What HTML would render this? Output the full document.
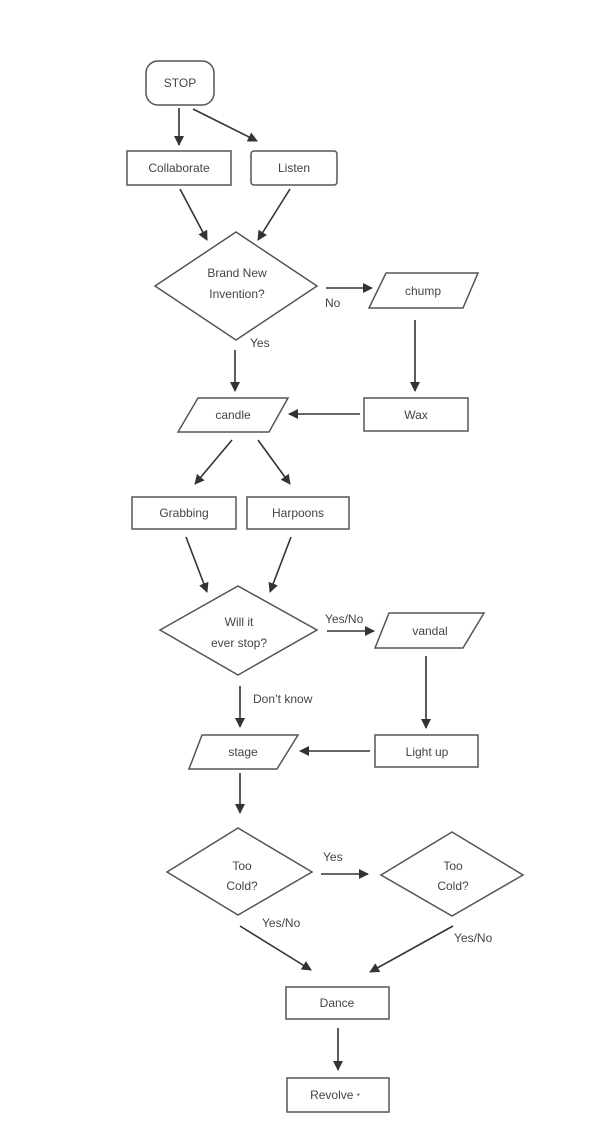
<!DOCTYPE html>
<html><head><meta charset="utf-8"><style>
html,body{margin:0;padding:0;background:#fff;}
svg{display:block;}
text{font-family:"Liberation Sans",sans-serif;font-size:12px;fill:#444;text-anchor:middle;}
.s{fill:none;stroke:#555;stroke-width:1.5;}
.a{stroke:#333;stroke-width:1.6;fill:none;marker-end:url(#ah);}
.l{text-anchor:start;}
</style></head><body>
<svg width="600" height="1139" viewBox="0 0 600 1139">
<defs><marker id="ah" markerWidth="10" markerHeight="10" refX="9" refY="5" orient="auto" markerUnits="userSpaceOnUse"><path d="M0,0 L10,5 L0,10 z" fill="#333"/></marker></defs>

<rect class="s" x="146" y="61" width="68" height="44" rx="12"/>
<text x="180" y="87">STOP</text>
<line class="a" x1="179" y1="108" x2="179" y2="145"/>
<line class="a" x1="193" y1="109" x2="257" y2="141"/>

<rect class="s" x="127" y="151" width="104" height="34"/>
<text x="179" y="172">Collaborate</text>
<rect class="s" x="251" y="151" width="86" height="34" rx="3"/>
<text x="294" y="172">Listen</text>
<line class="a" x1="180" y1="189" x2="207" y2="240"/>
<line class="a" x1="290" y1="189" x2="258" y2="240"/>

<polygon class="s" points="155,286 236,232 317,286 236,340"/>
<text x="237" y="277">Brand New</text>
<text x="237" y="298">Invention?</text>
<line class="a" x1="326" y1="288" x2="372" y2="288"/>
<text class="l" x="325" y="307">No</text>
<polygon class="s" points="386,273 478,273 463,308 369,308"/>
<text x="423" y="295">chump</text>
<line class="a" x1="415" y1="320" x2="415" y2="391"/>
<text class="l" x="250" y="347">Yes</text>
<line class="a" x1="235" y1="350" x2="235" y2="391"/>

<polygon class="s" points="198,398 288,398 269,432 178,432"/>
<text x="233" y="419">candle</text>
<rect class="s" x="364" y="398" width="104" height="33"/>
<text x="416" y="419">Wax</text>
<line class="a" x1="360" y1="414" x2="289" y2="414"/>
<line class="a" x1="232" y1="440" x2="195" y2="484"/>
<line class="a" x1="258" y1="440" x2="290" y2="484"/>

<rect class="s" x="132" y="497" width="104" height="32"/>
<text x="184" y="517">Grabbing</text>
<rect class="s" x="247" y="497" width="102" height="32"/>
<text x="298" y="517">Harpoons</text>
<line class="a" x1="186" y1="537" x2="207" y2="592"/>
<line class="a" x1="291" y1="537" x2="270" y2="592"/>

<polygon class="s" points="160,630 238,586 317,630 238,675"/>
<text x="239" y="626">Will it</text>
<text x="239" y="647">ever stop?</text>
<line class="a" x1="327" y1="631" x2="374" y2="631"/>
<text class="l" x="325" y="623">Yes/No</text>
<polygon class="s" points="389,613 484,613 463,648 375,648"/>
<text x="430" y="635">vandal</text>
<line class="a" x1="426" y1="656" x2="426" y2="728"/>
<text class="l" x="253" y="703">Don’t know</text>
<line class="a" x1="240" y1="686" x2="240" y2="727"/>

<polygon class="s" points="202,735 298,735 277,769 189,769"/>
<text x="243" y="756">stage</text>
<rect class="s" x="375" y="735" width="103" height="32"/>
<text x="427" y="756">Light up</text>
<line class="a" x1="370" y1="751" x2="300" y2="751"/>
<line class="a" x1="240" y1="773" x2="240" y2="813"/>

<polygon class="s" points="167,872 238,828 312,872 238,915"/>
<text x="242" y="870">Too</text>
<text x="242" y="890">Cold?</text>
<line class="a" x1="321" y1="874" x2="368" y2="874"/>
<text class="l" x="323" y="861">Yes</text>
<polygon class="s" points="381,875 452,832 523,875 452,916"/>
<text x="453" y="870">Too</text>
<text x="453" y="890">Cold?</text>
<line class="a" x1="240" y1="926" x2="311" y2="970"/>
<text class="l" x="262" y="927">Yes/No</text>
<line class="a" x1="453" y1="926" x2="370" y2="972"/>
<text class="l" x="454" y="942">Yes/No</text>

<rect class="s" x="286" y="987" width="103" height="32"/>
<text x="337" y="1007">Dance</text>
<line class="a" x1="338" y1="1028" x2="338" y2="1070"/>
<rect class="s" x="287" y="1078" width="102" height="34"/>
<text x="335" y="1099">Revolve  <tspan font-size="8">*</tspan></text>
</svg>
</body></html>
